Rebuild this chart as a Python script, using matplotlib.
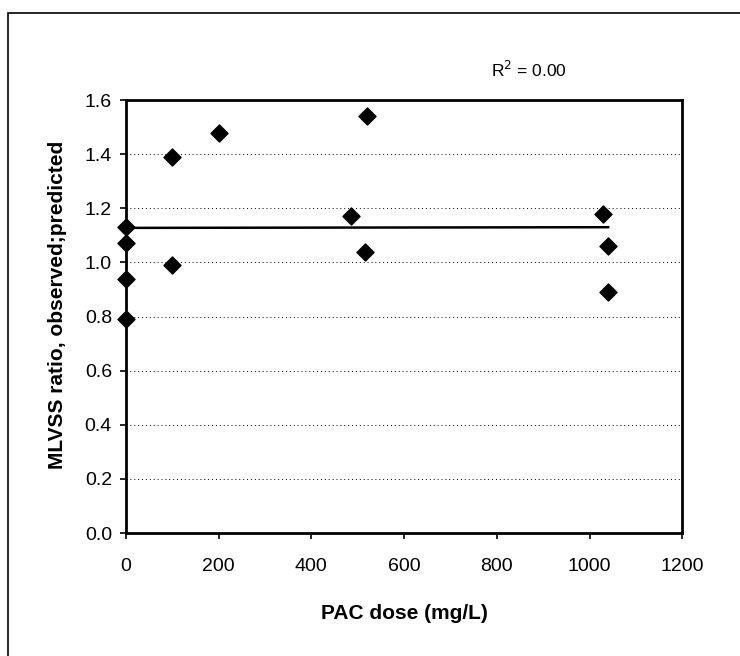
import numpy as np
import matplotlib.pyplot as plt
from matplotlib.patches import Rectangle

# PAC dose (mg/L) and MLVSS ratio observed:predicted
pac_dose = [0, 0, 0, 0, 100, 100, 200, 485, 520, 515, 1030, 1040, 1040]
mlvss_ratio = [1.13, 1.07, 0.94, 0.79, 1.39, 0.99, 1.48, 1.17, 1.54, 1.04, 1.18, 1.06, 0.89]

x_ticks = [0, 200, 400, 600, 800, 1000, 1200]
y_ticks = [0.0, 0.2, 0.4, 0.6, 0.8, 1.0, 1.2, 1.4, 1.6]

plt.rcParams['font.family'] = ['Liberation Sans', 'DejaVu Sans']

fig = plt.figure(figsize=(7.4, 6.56), dpi=100)
ax = fig.add_axes([0.170, 0.1875, 0.752, 0.66])

# dotted gridlines
for yv in y_ticks[1:-1]:
    ax.axhline(yv, color='black', linestyle=(0, (1, 3)), linewidth=0.7, zorder=1)

ax.scatter(pac_dose, mlvss_ratio, marker='D', s=75, color='black', zorder=3, clip_on=False)

# linear trend line
slope, intercept = np.polyfit(pac_dose, mlvss_ratio, 1)
xs = np.array([min(pac_dose), max(pac_dose)])
ax.plot(xs, slope * xs + intercept, color='black', linewidth=1.8, zorder=2)

ax.set_xlim(0, 1200)
ax.set_ylim(0, 1.6)
ax.set_xticks(x_ticks)
ax.set_yticks(y_ticks)
ax.set_yticklabels([f'{v:.1f}' for v in y_ticks])
ax.tick_params(axis='both', labelsize=14, direction='out', length=4, width=1.2)
ax.tick_params(axis='x', pad=14)
ax.tick_params(axis='y', pad=6)
for side in ['left', 'bottom', 'top', 'right']:
    ax.spines[side].set_linewidth(2)

ax.set_xlabel('PAC dose (mg/L)', fontsize=15, fontweight='bold', labelpad=21)
ax.set_ylabel('MLVSS ratio, observed;predicted', fontsize=15, fontweight='bold')
ax.yaxis.set_label_coords(-0.105, 0.527)

fig.text(0.715, 0.893, 'R$^2$ = 0.00', fontsize=12.5, ha='center', va='center')

# outer chart frame
fig.patches.append(Rectangle((8 / 740, -0.05), 1.1, (656 - 13) / 656 + 0.05,
                             transform=fig.transFigure, fill=False,
                             edgecolor='black', linewidth=1.2))

fig.savefig('out.png', dpi=100)
